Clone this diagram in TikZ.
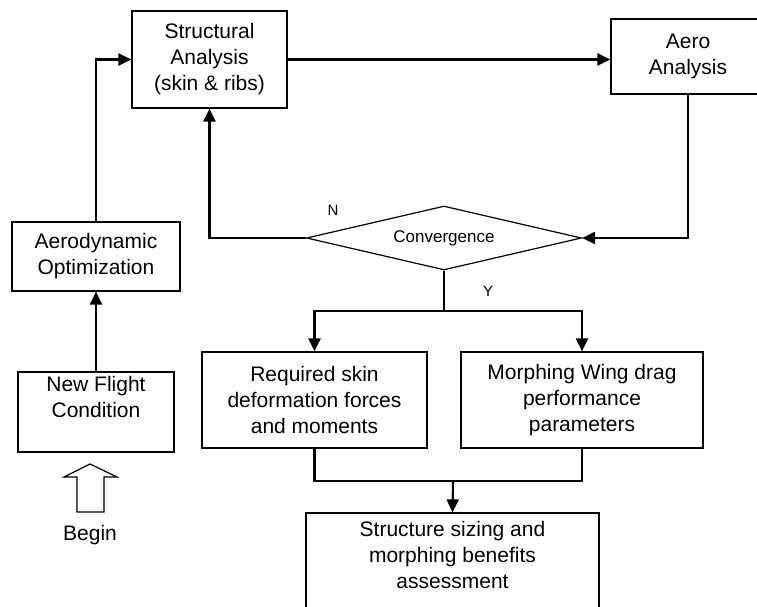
\documentclass[tikz,border=0pt]{standalone}
\usepackage{fontspec}
\setmainfont{Liberation Sans}
\usetikzlibrary{arrows.meta,shapes.geometric}

\tikzset{
  blk/.style={draw, line width=1.2pt, align=center, inner sep=0pt, font=\fontsize{21}{26}\selectfont},
  arr/.style={line width=2.1pt, -{Triangle[length=13pt,width=12pt]}},
  ln/.style={line width=2.1pt},
  lbl/.style={inner sep=0pt, font=\fontsize{15}{18}\selectfont}
}

\begin{document}
\begin{tikzpicture}[x=1pt,y=-1pt]
\useasboundingbox (0,0) rectangle (757,607);

\node[blk, minimum width=155, minimum height=97] (sa) at (209.5,59.5) {Structural\\Analysis\\(skin \& ribs)};
\node[blk, minimum width=154, minimum height=75] (aero) at (688,56.5) {Aero\\Analysis};
\node[blk, diamond, aspect=4.3, minimum width=275, minimum height=64, font=\fontsize{17}{20}\selectfont] (conv) at (444,238) {Convergence};
\node[blk, minimum width=168, minimum height=69] (ao) at (96,256.5) {Aerodynamic\\Optimization};
\node[blk, minimum width=156, minimum height=80] (nf) at (96,412) {New Flight\\Condition\\[4pt]\mbox{}};
\node[blk, minimum width=225, minimum height=96] (rq) at (314.5,400) {Required skin\\deformation forces\\and moments};
\node[blk, minimum width=242, minimum height=96] (mw) at (582,400) {Morphing Wing drag\\performance\\parameters};
\node[blk, minimum width=293, minimum height=110] (res) at (452.5,568) {Structure sizing and\\morphing benefits\\assessment\\\mbox{}};

\node[lbl] (nlab) at (333,210) {N};
\node[lbl] (ylab) at (488,291) {Y};
\node[blk, draw=none] (begin) at (90,535) {Begin};

% begin arrow
\draw[line width=1.2pt] (90,464) -- (117,477) -- (104,477) -- (104,512) -- (77,512) -- (77,477) -- (64,477) -- cycle;

\coordinate (ysplit) at (444,311);
\coordinate (join) at (453,481);

\draw[arr] (nf.north) -- (ao.south);
\draw[arr] (ao.north) |- (sa.west);
\draw[arr] (sa.east) -- (sa.east -| aero.west);
\draw[arr] (aero.south) |- (conv.east);
\draw[arr] (conv.west) -| (sa.south);
\draw[ln] (conv.south) -- (ysplit);
\draw[arr] (ysplit) -| (rq.north);
\draw[arr] (ysplit) -| (mw.north);
\draw[ln] (rq.south) |- (join);
\draw[ln] (mw.south) |- (join);
\draw[arr] (join) -- (res.north);
\end{tikzpicture}
\end{document}
